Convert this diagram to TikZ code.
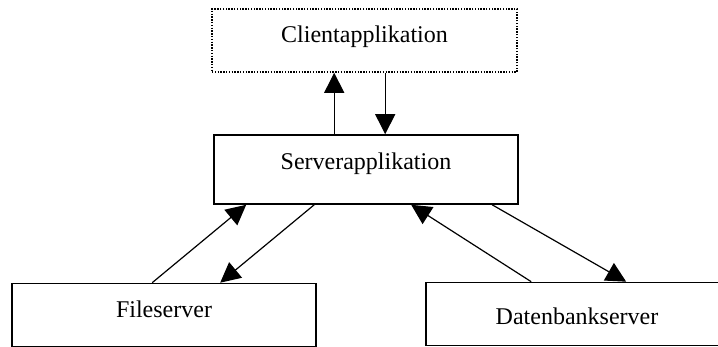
\documentclass[tikz,border=0pt]{standalone}
\usepackage{fontspec}
\setmainfont{Liberation Serif}
\usetikzlibrary{arrows.meta}
\begin{document}
\begin{tikzpicture}[x=0.5pt,y=-0.5pt,
  box/.style={draw, line width=0.8pt, rectangle, inner sep=0pt, minimum height=31.5pt},
  dotbox/.style={box, dash pattern=on 0.7pt off 0.7pt},
  lbl/.style={anchor=base, inner sep=0pt, font=\fontsize{12pt}{14pt}\selectfont},
  arr/.style={line width=0.6pt, -{Triangle[length=10pt,width=10pt]}}]
  \useasboundingbox (0,0) rectangle (718,347);
  % boxes
  \node[dotbox, minimum width=152.5pt] (cl) at (364.5,40.5) {};
  \node[box, minimum width=152pt, minimum height=34.5pt] (srv) at (366,169.5) {};
  \node[box, minimum width=152pt] (fs) at (164,315) {};
  \node[box, minimum width=151pt] (db) at (577,314) {};
  % labels
  \node[lbl] (cltext) at (364.5,43) {Clientapplikation};
  \node[lbl] (srvtext) at (366,170) {Serverapplikation};
  \node[lbl] (fstext) at (164,318) {Fileserver};
  \node[lbl] (dbtext) at (577,325) {Datenbankserver};
  % client <-> server
  \coordinate (up) at ([xshift=60.5pt]srv.north west);
  \coordinate (dn) at ([xshift=87pt]cl.south west);
  \draw[arr] (up) -- (up |- cl.south);
  \draw[arr] (dn) -- (dn |- srv.north);
  % fileserver <-> server
  \draw[arr] ([xshift=70.5pt]fs.north west) -- ([xshift=16.5pt]srv.south west);
  \draw[arr] ([xshift=50.5pt]srv.south west) -- ([xshift=104.5pt]fs.north west);
  % database server <-> server
  \draw[arr] ([xshift=53pt]db.north west) -- ([xshift=99pt]srv.south west);
  \draw[arr] ([xshift=139.5pt]srv.south west) -- ([xshift=100.5pt]db.north west);
\end{tikzpicture}
\end{document}
